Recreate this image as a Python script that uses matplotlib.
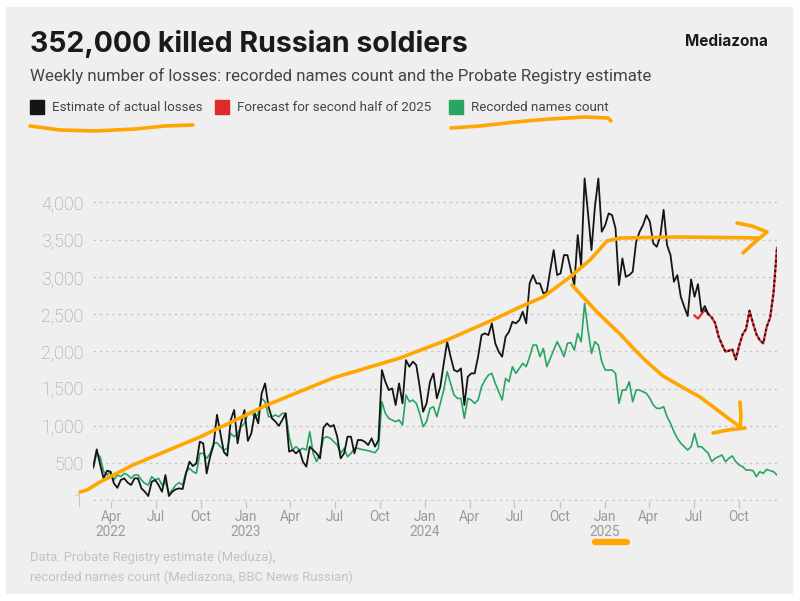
import matplotlib
matplotlib.use("Agg")
import matplotlib.pyplot as plt
import matplotlib.dates as mdates
import matplotlib.patches as mpatches
import pandas as pd

# weekly losses (first week: 24 Feb 2022)
start = "2022-02-24"

estimate = [
    454, 686, 480, 297, 400, 387, 230, 170, 275, 297,
    240, 208, 297, 297, 163, 118, 60, 252, 275, 208,
    118, 342, 60, 118, 150, 163, 154, 364, 521, 462,
    498, 789, 767, 364, 588, 744, 1150, 901, 650, 600,
    1080, 1214, 767, 1035, 1214, 800, 901, 1169, 1035, 1437,
    1571, 1258, 1102, 1060, 1000, 1080, 1169, 655, 677, 632,
    677, 521, 454, 722, 677, 632, 565, 980, 1035, 990,
    1012, 856, 565, 632, 856, 856, 632, 811, 811, 789,
    744, 834, 722, 811,
    1750, 1593, 1482, 1504, 1281, 1571, 1303, 1884, 1795, 1862,
    1817, 1526, 1191, 1303, 1593, 1705, 1370, 1526, 1839, 2130,
    1929, 1750, 1728, 1772, 1281, 1660, 1705, 1705, 1929, 2219,
    2242, 2219, 2376, 2108, 1996, 1929, 2197, 2264, 2398, 2376,
    2420, 2532, 2376, 2912, 3024, 2912, 2912, 2778, 2800, 3091,
    3359, 3024, 3046, 3292, 3292, 3091, 2890, 3560, 3150, 4320,
    3851, 3359, 3940, 4320, 3605, 3694, 3851, 3828, 3650, 2890,
    3247, 3001, 3024, 3069, 3471, 3605, 3694, 3828, 3739, 3448,
    3404, 3538, 3900, 3426, 3292, 2934, 3024, 2733, 2599, 2474,
    2966, 2733, 2903, 2532, 2608, 2501,
]

# forecast starts at week index 175
forecast_from = 175
forecast = [
    2480, 2440, 2500, 2560, 2501, 2456, 2380, 2200, 2090, 1996,
    2010, 2028, 1893, 2080, 2230, 2300, 2545, 2380, 2230, 2150,
    2108, 2330, 2450, 2790, 3390,
]

recorded = [
    431, 632, 588, 387, 342, 387, 275, 342, 320, 364,
    342, 297, 342, 342, 275, 230, 208, 320, 275, 297,
    208, 252, 96, 141, 208, 239, 208, 387, 431, 387,
    364, 632, 632, 565, 632, 767, 775, 722, 677, 700,
    901, 856, 901, 990, 1035, 1169, 1191, 1102, 1169, 1370,
    1325, 1124, 1124, 1147, 1124, 1169, 1169, 856, 677, 722,
    677, 700, 677, 923, 632, 521, 632, 834, 856, 834,
    789, 744, 632, 700, 588, 632, 700, 700, 686, 677,
    668, 655, 641, 700,
    1325, 1169, 1102, 1080, 1057, 1080, 1012, 1415, 1325, 1348,
    1303, 1169, 990, 1057, 1236, 1258, 1124, 1303, 1482, 1728,
    1571, 1415, 1370, 1370, 1102, 1370, 1348, 1303, 1348, 1526,
    1616, 1683, 1705, 1571, 1459, 1348, 1638, 1593, 1795, 1705,
    1772, 1839, 1795, 1929, 2085, 2085, 1929, 2040, 1795, 1906,
    2018, 2130, 2040, 1929, 2108, 2117, 2018, 2242, 2130, 2644,
    2286, 1973, 2130, 2085, 1862, 1750, 1750, 1750, 1705, 1303,
    1482, 1482, 1593, 1325, 1482, 1482, 1459, 1437, 1370, 1281,
    1236, 1236, 1258, 1124, 1035, 923, 834, 767, 722, 677,
    722, 901, 722, 722, 677, 633, 521, 566, 588, 610,
    521, 566, 597, 521, 476, 454, 409, 409, 400, 320,
    387, 364, 418, 400, 387, 342,
]

y_ticks = [1, 500, 1000, 1500, 2000, 2500, 3000, 3500, 4000]

BG = "#efefef"
GRAY = "#9b9b9b"
BLACK = "#151515"
RED = "#e02b2b"
GREEN = "#2aa463"
ORANGE = "#ffa600"

weeks = pd.date_range(start, periods=len(recorded), freq="7D")
est_dates = weeks[:len(estimate)]
fc_dates = weeks[forecast_from:forecast_from + len(forecast)]

fig = plt.figure(figsize=(8, 6.01), dpi=100)
fig.patch.set_facecolor("white")
fig.patches.append(mpatches.Rectangle((6 / 800, 8 / 601), 786 / 800, 586 / 601,
                                      transform=fig.transFigure, color=BG, zorder=-10))

ax = fig.add_axes([93.3 / 800, (601 - 500.5) / 601, 683.7 / 800, 328 / 601])
ax.set_facecolor(BG)
ax.plot(weeks, recorded, color=GREEN, lw=1.2, zorder=3)
ax.plot(fc_dates, forecast, color=RED, lw=1.6, zorder=4)
ax.plot(est_dates, estimate, color=BLACK, lw=1.3, zorder=5)
ax.plot(fc_dates[3:], forecast[3:], color=BLACK, lw=1.5, ls=(0, (1, 1.4)), zorder=6)

ax.set_xlim(weeks[0], weeks[-1])
ax.set_ylim(0, 4400)
ax.set_yticks(y_ticks)
ax.set_yticklabels([f"{v:,}" for v in y_ticks])
ax.yaxis.grid(True, ls=(0, (2, 3)), color="#c6c6c6", lw=0.9)
ax.tick_params(axis="y", length=0, pad=7, labelsize=12.8, labelcolor=GRAY)
for lab in ax.get_yticklabels():
    lab.set_fontfamily("Roboto")
    lab.set_fontweight("light")

ax.xaxis.set_major_locator(mdates.MonthLocator(bymonth=[1, 4, 7, 10]))


def fmt(x, pos):
    d = mdates.num2date(x)
    s = d.strftime("%b")
    if d.month == 1 or pos == 0:
        s += "\n" + str(d.year)
    return s


ax.xaxis.set_major_formatter(plt.FuncFormatter(fmt))
ax.tick_params(axis="x", length=5, color="#c6c6c6", width=0.9, pad=2,
               labelsize=9.8, labelcolor=GRAY)
for lab in ax.get_xticklabels():
    lab.set_fontfamily("Roboto")
    lab.set_linespacing(1.05)
for s in ax.spines.values():
    s.set_visible(False)

# titles and legend
fig.text(30 / 800, 1 - 44 / 601, "352,000 killed Russian soldiers", fontsize=20.5,
         fontweight="bold", family="Inter", color="#1a1a1a", va="center")
fig.text(768 / 800, 1 - 41 / 601, "Mediazona", fontsize=11, fontweight="bold",
         family="Inter", color="#1a1a1a", va="center", ha="right")
fig.text(30 / 800, 1 - 76 / 601,
         "Weekly number of losses: recorded names count and the Probate Registry estimate",
         fontsize=12.2, family="Roboto", color="#444444", va="center")

legend = [("Estimate of actual losses", BLACK, 30), ("Forecast for second half of 2025", RED, 215),
          ("Recorded names count", GREEN, 449)]
for label, col, px in legend:
    fig.patches.append(mpatches.Rectangle((px / 800, 1 - 114 / 601), 14 / 800, 14 / 601,
                                          transform=fig.transFigure, color=col))
    fig.text((px + 22) / 800, 1 - 107 / 601, label, fontsize=9.6, family="Roboto",
             color="#444444", va="center")

fig.text(30 / 800, 1 - 557 / 601, "Data: Probate Registry estimate (Meduza),",
         fontsize=9.4, family="Roboto", color="#c2c2c2", va="center")
fig.text(30 / 800, 1 - 577 / 601, "recorded names count (Mediazona, BBC News Russian)",
         fontsize=9.4, family="Roboto", color="#c2c2c2", va="center")

# hand-drawn orange marks, in figure pixels
ov = fig.add_axes([0, 0, 1, 1], zorder=20)
ov.set_xlim(0, 800)
ov.set_ylim(601, 0)
ov.axis("off")
ov.patch.set_alpha(0)

strokes = [
    [(30, 126), (60, 130), (95, 131), (135, 129), (165, 126), (193, 125)],
    [(451, 128), (480, 126), (515, 122), (550, 119), (585, 117), (608, 118), (611, 121)],
    [(80, 492), (87, 490), (100, 482), (133, 465), (200, 437), (267, 405), (333, 378),
     (400, 358), (447, 340), (497, 318), (520, 307), (543, 297), (550, 292), (570, 277),
     (590, 260), (607, 241), (620, 238), (680, 237), (760, 238)],
    [(737, 223), (752, 226), (767, 232), (755, 242), (743, 253)],
    [(572, 285), (585, 299), (597, 312), (620, 334), (635, 350), (647, 362), (663, 376),
     (682, 387), (700, 397), (720, 412), (740, 427)],
    [(740, 402), (741, 416), (740, 428)],
    [(713, 433), (728, 430), (745, 428)],
]
for pts in strokes:
    xs, ys = zip(*pts)
    ov.plot(xs, ys, color=ORANGE, lw=2.6, solid_capstyle="round", solid_joinstyle="round")
ov.plot([595, 627], [542, 542], color=ORANGE, lw=4.5, solid_capstyle="round")

fig.savefig("out.png", dpi=100, facecolor="white")
